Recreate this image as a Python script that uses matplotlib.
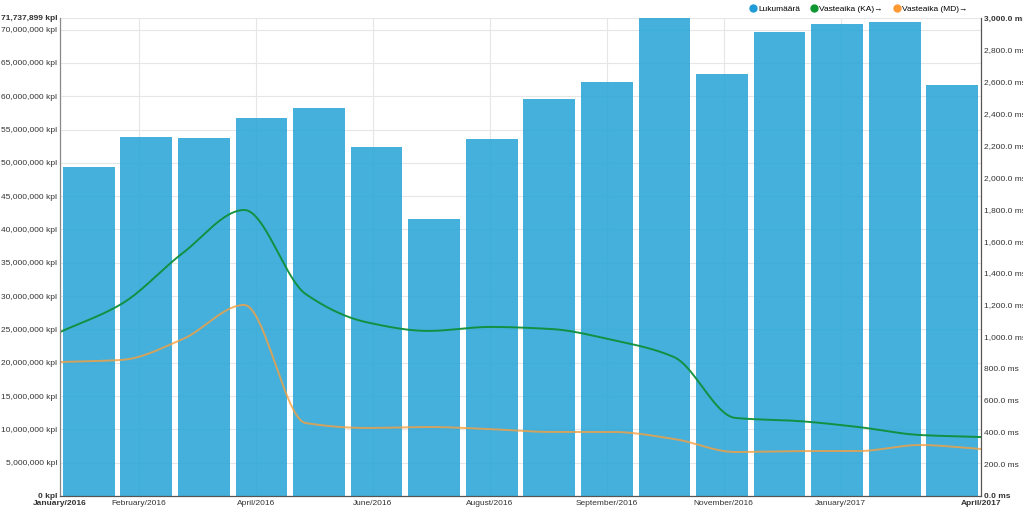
import numpy as np
import matplotlib
matplotlib.use("Agg")
import matplotlib.pyplot as plt
from matplotlib.lines import Line2D

plt.rcParams['font.family'] = ['Liberation Sans', 'DejaVu Sans']

# kuukaudet jan/2016 - apr/2017
kuukaudet = ["01/2016", "02/2016", "03/2016", "04/2016", "05/2016", "06/2016", "07/2016", "08/2016",
             "09/2016", "10/2016", "11/2016", "12/2016", "01/2017", "02/2017", "03/2017", "04/2017"]
lukumaara = [49.4e6, 53.9e6, 53.7e6, 56.8e6, 58.2e6, 52.4e6, 41.6e6, 53.6e6,
             59.6e6, 62.1e6, 71737899, 63.3e6, 69.6e6, 70.8e6, 71.1e6, 61.7e6]
vaste_ka = [1029, 1205, 1525, 1795, 1268, 1090, 1036, 1061, 1048, 979, 872, 490, 471, 433, 383, 370]
vaste_md = [841, 854, 985, 1199, 458, 427, 433, 420, 402, 402, 358, 276, 282, 282, 320, 295]

x_labels = ["February/2016", "April/2016", "June/2016", "August/2016",
            "September/2016", "November/2016", "January/2017"]

ymax_left = 71737899
ymax_right = 3000


def pchip(x, y, xs):
    # monotoninen kuutiointerpolointi viivan pehmennykseen
    x = np.asarray(x, float); y = np.asarray(y, float)
    h = np.diff(x); d = np.diff(y) / h
    m = np.zeros_like(y)
    for k in range(1, len(y) - 1):
        if d[k - 1] * d[k] > 0:
            w1 = 2 * h[k] + h[k - 1]; w2 = h[k] + 2 * h[k - 1]
            m[k] = (w1 + w2) / (w1 / d[k - 1] + w2 / d[k])
    m[0] = d[0]; m[-1] = d[-1]
    idx = np.clip(np.searchsorted(x, xs) - 1, 0, len(h) - 1)
    t = (xs - x[idx]) / h[idx]
    h00 = 2 * t**3 - 3 * t**2 + 1; h10 = t**3 - 2 * t**2 + t
    h01 = -2 * t**3 + 3 * t**2; h11 = t**3 - t**2
    return h00 * y[idx] + h10 * h[idx] * m[idx] + h01 * y[idx + 1] + h11 * h[idx] * m[idx + 1]


n = len(kuukaudet)
fig = plt.figure(figsize=(10.23, 5.12), dpi=100)
ax = fig.add_axes([60 / 1023, 16 / 512, 921 / 1023, 478 / 512])
ax2 = ax.twinx()

span = n - 1
slot = span / n
bx = (np.arange(n) + 0.5) * slot
ax.bar(bx, lukumaara, width=slot * 0.9, color='#2fa8d8', alpha=0.9, zorder=2)

lx = np.arange(n)
xs = np.linspace(0, span, 600)
ax2.plot(xs, pchip(lx, vaste_ka, xs), color='#0f8f3a', lw=1.4, alpha=0.95)
ax2.plot(xs, pchip(lx, vaste_md, xs), color='#f7a040', lw=1.4, alpha=0.8)

ax.set_xlim(0, span)
ax.set_ylim(0, ymax_left)
ax2.set_ylim(0, ymax_right)

# vasen akseli
lt = list(np.arange(0, 70e6 + 1, 5e6)) + [ymax_left]
ax.set_yticks(lt)
ax.set_yticklabels([f"{int(v):,} kpl" for v in lt], fontsize=6)
for i, lab in enumerate(ax.get_yticklabels()):
    if i == 0 or i == len(lt) - 1:
        lab.set_fontweight('bold')

# oikea akseli
rt = np.arange(0, ymax_right + 1, 200)
ax2.set_yticks(rt)
ax2.set_yticklabels([f"{v:,.1f} ms" for v in rt], fontsize=6)
for i, lab in enumerate(ax2.get_yticklabels()):
    if i == 0 or i == len(rt) - 1:
        lab.set_fontweight('bold')

# x-akseli
xt = [0] + [1.29 + 1.904 * k for k in range(len(x_labels))] + [span]
ax.set_xticks(xt)
ax.set_xticklabels(["January/2016"] + x_labels + ["April/2017"], fontsize=6)
for i, lab in enumerate(ax.get_xticklabels()):
    if i == 0 or i == len(xt) - 1:
        lab.set_fontweight('bold')

ax.grid(True, color='#e6e6e6', lw=0.8, zorder=0)
ax.set_axisbelow(True)
for a in (ax, ax2):
    a.tick_params(length=0, pad=2, colors='#333333')
    a.spines['top'].set_visible(False)
    a.spines['left'].set_color('#888888')
    a.spines['right'].set_color('#555555')
    a.spines['bottom'].set_color('#555555')
ax.tick_params(axis='x', pad=3)

handles = [Line2D([], [], marker='o', ls='', color='#1f9bd7', markersize=5),
           Line2D([], [], marker='o', ls='', color='#109630', markersize=5),
           Line2D([], [], marker='o', ls='', color='#ff9933', markersize=5)]
fig.legend(handles, ["Lukumäärä", "Vasteaika (KA)→", "Vasteaika (MD)→"],
           loc='upper right', bbox_to_anchor=(975 / 1023, 1.005), ncol=3, frameon=False,
           fontsize=6, handletextpad=0.1, columnspacing=1.2, handlelength=1.0)

plt.savefig("out.png", dpi=100)
